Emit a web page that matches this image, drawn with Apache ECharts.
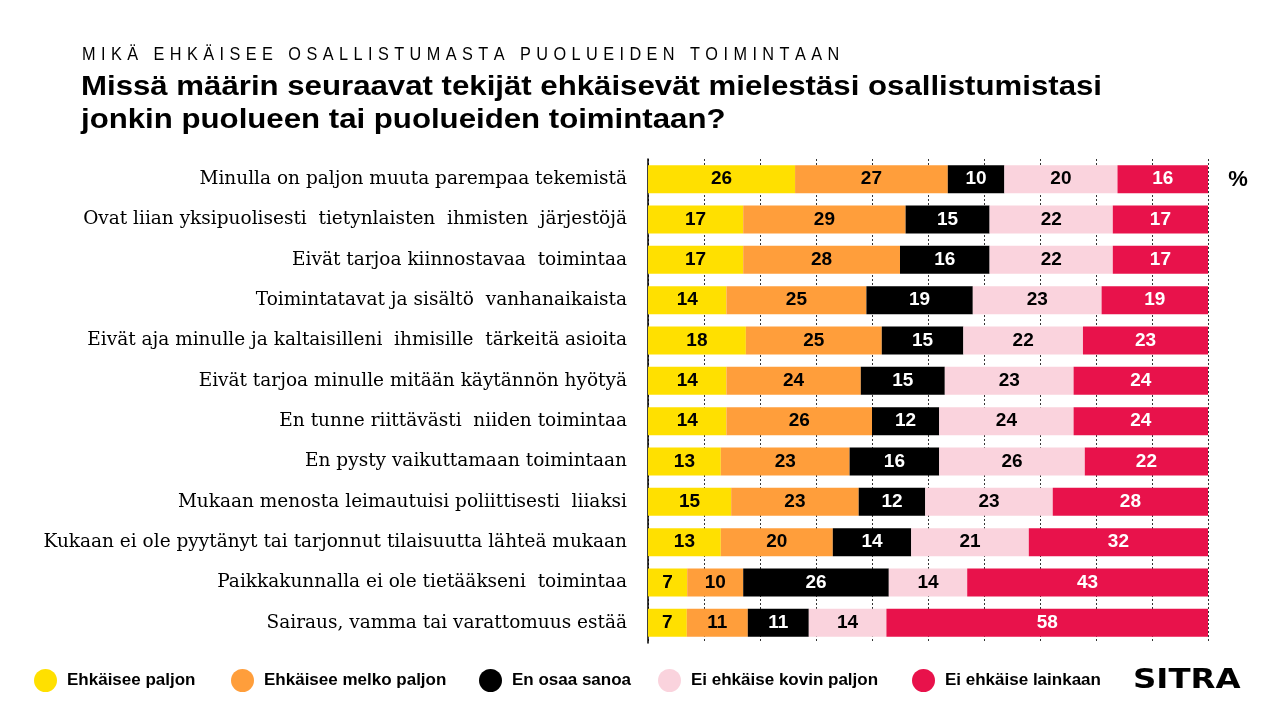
<!DOCTYPE html>
<html>
<head>
<meta charset="utf-8">
<script src="https://cdn.jsdelivr.net/npm/echarts@6/dist/echarts.min.js"></script>
<style>html,body{margin:0;padding:0;background:#fff}#c{width:1280px;height:720px}</style>
</head>
<body>
<div id="c"></div>
<script>
const kicker = 'MIKÄ EHKÄISEE OSALLISTUMASTA PUOLUEIDEN TOIMINTAAN';
const titleLines = ['Missä määrin seuraavat tekijät ehkäisevät mielestäsi osallistumistasi', 'jonkin puolueen tai puolueiden toimintaan?'];
const categories = [
  'Minulla on paljon muuta parempaa tekemistä',
  'Ovat liian yksipuolisesti  tietynlaisten  ihmisten  järjestöjä',
  'Eivät tarjoa kiinnostavaa  toimintaa',
  'Toimintatavat ja sisältö  vanhanaikaista',
  'Eivät aja minulle ja kaltaisilleni  ihmisille  tärkeitä asioita',
  'Eivät tarjoa minulle mitään käytännön hyötyä',
  'En tunne riittävästi  niiden toimintaa',
  'En pysty vaikuttamaan toimintaan',
  'Mukaan menosta leimautuisi poliittisesti  liiaksi',
  'Kukaan ei ole pyytänyt tai tarjonnut tilaisuutta lähteä mukaan',
  'Paikkakunnalla ei ole tietääkseni  toimintaa',
  'Sairaus, vamma tai varattomuus estää'
];
const seriesNames = ['Ehkäisee paljon', 'Ehkäisee melko paljon', 'En osaa sanoa', 'Ei ehkäise kovin paljon', 'Ei ehkäise lainkaan'];
const ehkaiseePaljon      = [26, 17, 17, 14, 18, 14, 14, 13, 15, 13, 7, 7];
const ehkaiseeMelkoPaljon = [27, 29, 28, 25, 25, 24, 26, 23, 23, 20, 10, 11];
const enOsaaSanoa         = [10, 15, 16, 19, 15, 15, 12, 16, 12, 14, 26, 11];
const eiKovinPaljon       = [20, 22, 22, 23, 22, 23, 24, 26, 23, 21, 14, 14];
const eiLainkaan          = [16, 17, 17, 19, 23, 24, 24, 22, 28, 32, 43, 58];
const seriesValues = [ehkaiseePaljon, ehkaiseeMelkoPaljon, enOsaaSanoa, eiKovinPaljon, eiLainkaan];
const colors = ['#FFE000', '#FF9E3B', '#000000', '#FAD3DD', '#E8124B'];
const labelColors = ['#000', '#000', '#fff', '#000', '#fff'];

const rowTotals = categories.map((_, i) => seriesValues.reduce((s, arr) => s + arr[i], 0));

const series = seriesNames.map((name, si) => ({
  name: name,
  type: 'bar',
  stack: 'all',
  barWidth: 28,
  itemStyle: { color: colors[si] },
  label: {
    show: true,
    position: 'inside',
    color: labelColors[si],
    fontFamily: 'Liberation Sans, Arial, sans-serif',
    fontWeight: 'bold',
    fontSize: 19,
    formatter: p => p.data.raw
  },
  emphasis: { disabled: true },
  data: seriesValues[si].map((v, i) => ({ value: v / rowTotals[i] * 100, raw: v }))
}));

const legendLefts = [34, 231, 479, 658, 912];
const legends = seriesNames.map((name, i) => ({
  data: [name],
  left: legendLefts[i],
  top: 669,
  padding: 0,
  icon: 'circle',
  itemWidth: 23,
  itemHeight: 23,
  selectedMode: false,
  textStyle: {
    fontFamily: 'Liberation Sans, Arial, sans-serif',
    fontWeight: 'bold',
    fontSize: 17,
    color: '#000',
    padding: [0, 0, 0, 5]
  }
}));

// letter-spaced kicker text (still real text)
const SP = '\u2004';
const kickerSpaced = kicker.split(' ').map(w => w.split('').join(SP)).join(SP + ' ' + SP);

const sans = 'Liberation Sans, Arial, sans-serif';

const chart = echarts.init(document.getElementById('c'));
chart.setOption({
  animation: false,
  backgroundColor: '#fff',
  color: colors,
  legend: legends,
  grid: { left: 648, right: 72, top: 159, height: 484, containLabel: false },
  xAxis: {
    type: 'value', min: 0, max: 100, interval: 10,
    axisLabel: { show: false }, axisLine: { show: false }, axisTick: { show: false },
    splitLine: { show: true, lineStyle: { color: '#333', type: [2, 2], width: 1 } }
  },
  yAxis: {
    type: 'category', inverse: true, data: categories,
    axisLine: { show: true, lineStyle: { color: '#000', width: 1.5 } },
    axisTick: { show: false },
    axisLabel: { margin: 21, color: '#000', fontFamily: 'DejaVu Serif, Georgia, serif', fontSize: 18.5 }
  },
  series: series,
  graphic: [
    { type: 'text', x: 82, y: 54.5, scaleX: 0.88, style: { text: kickerSpaced, font: 'normal 18.5px ' + sans, fill: '#000', verticalAlign: 'middle' } },
    { type: 'text', x: 81, y: 88, scaleX: 1.155, style: { text: titleLines[0], font: 'bold 27px ' + sans, fill: '#000', verticalAlign: 'middle' } },
    { type: 'text', x: 81, y: 121, scaleX: 1.155, style: { text: titleLines[1], font: 'bold 27px ' + sans, fill: '#000', verticalAlign: 'middle' } },
    { type: 'text', x: 1238, y: 180, style: { text: '%', font: 'bold 22px ' + sans, fill: '#000', align: 'center', verticalAlign: 'middle' } },
    { type: 'text', x: 1133, y: 681, scaleX: 1.2, style: { text: 'SITRA', font: 'bold 27px DejaVu Sans, sans-serif', fill: '#000', verticalAlign: 'middle' } }
  ]
});
</script>
</body>
</html>
